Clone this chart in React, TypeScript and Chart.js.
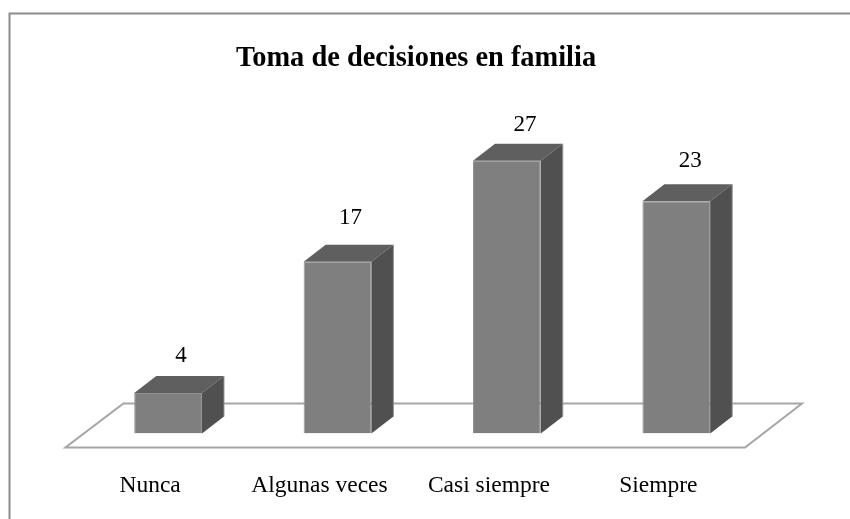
import React, { useEffect, useRef } from "react";
import { Chart, registerables } from "chart.js";

Chart.register(...registerables);

const categories = ["Nunca", "Algunas veces", "Casi siempre", "Siempre"];
const values = [4, 17, 27, 23];
const chartTitle = "Toma de decisiones en familia";

const DEPTH_X = 22;
const DEPTH_Y = 17;
const FRONT = "#7f7f7f";
const TOP = "#5f5f5f";
const SIDE = "#505050";
const EDGE = "#929292";
const LABEL_DX = [13, 13, 18, 14];
const LABEL_DY = [-37.5, -43.5, -36, -40];

const scene = {
  id: "scene",
  beforeDraw(chart: any) {
    const { ctx, width, height } = chart;
    ctx.save();
    ctx.strokeStyle = "#8c8c8c";
    ctx.lineWidth = 2;
    ctx.beginPath();
    ctx.moveTo(9.5, height);
    ctx.lineTo(9.5, 13.5);
    ctx.lineTo(width, 13.5);
    ctx.stroke();
    ctx.restore();
  },
  beforeDatasetsDraw(chart: any) {
    const { ctx, chartArea } = chart;
    const meta = chart.getDatasetMeta(0);
    const bottom = chartArea.bottom;
    ctx.save();
    ctx.strokeStyle = "#a6a6a6";
    ctx.lineWidth = 2;
    ctx.beginPath();
    ctx.moveTo(chartArea.left - 18, bottom + 14);
    ctx.lineTo(chartArea.right - 16, bottom + 14);
    ctx.lineTo(chartArea.right + 41, bottom - 30);
    ctx.lineTo(chartArea.left + 40, bottom - 30);
    ctx.closePath();
    ctx.stroke();
    ctx.lineWidth = 1;
    ctx.strokeStyle = EDGE;
    meta.data.forEach((bar: any) => {
      const half = bar.width / 2;
      const l = bar.x - half;
      const r = bar.x + half;
      ctx.fillStyle = TOP;
      ctx.beginPath();
      ctx.moveTo(l, bar.y);
      ctx.lineTo(l + DEPTH_X, bar.y - DEPTH_Y);
      ctx.lineTo(r + DEPTH_X, bar.y - DEPTH_Y);
      ctx.lineTo(r, bar.y);
      ctx.closePath();
      ctx.fill();
      ctx.fillStyle = SIDE;
      ctx.beginPath();
      ctx.moveTo(r, bar.y);
      ctx.lineTo(r + DEPTH_X, bar.y - DEPTH_Y);
      ctx.lineTo(r + DEPTH_X, bottom - DEPTH_Y);
      ctx.lineTo(r, bottom);
      ctx.closePath();
      ctx.fill();
      ctx.beginPath();
      ctx.moveTo(r + DEPTH_X, bar.y - DEPTH_Y);
      ctx.lineTo(r + DEPTH_X, bottom - DEPTH_Y);
      ctx.stroke();
    });
    ctx.restore();
  },
  afterDatasetsDraw(chart: any) {
    const { ctx } = chart;
    const meta = chart.getDatasetMeta(0);
    ctx.save();
    ctx.font = '23px "Liberation Serif"';
    ctx.fillStyle = "#000";
    ctx.textAlign = "center";
    ctx.textBaseline = "middle";
    meta.data.forEach((bar: any, i: number) => {
      ctx.fillText(String(values[i]), bar.x + LABEL_DX[i], bar.y + LABEL_DY[i]);
    });
    ctx.restore();
  },
};

export default function App() {
  const ref = useRef<HTMLCanvasElement>(null);
  useEffect(() => {
    document.body.style.margin = "0";
    const chart = new Chart(ref.current!, {
      type: "bar",
      data: {
        labels: categories,
        datasets: [
          {
            data: values,
            backgroundColor: FRONT,
            borderColor: EDGE,
            borderWidth: 1,
            barPercentage: 0.4,
            categoryPercentage: 1,
          },
        ],
      },
      options: {
        responsive: false,
        animation: false,
        layout: { padding: { left: 71, right: 89, top: 42, bottom: 0 } },
        plugins: {
          legend: { display: false },
          tooltip: { enabled: false },
          title: {
            display: true,
            text: chartTitle,
            color: "#000",
            font: { family: '"Liberation Serif"', size: 28.4, weight: "bold" },
            padding: { top: 0, bottom: 54.4 },
          },
        },
        scales: {
          x: {
            grid: { display: false },
            border: { display: false },
            ticks: {
              color: "#000",
              font: { family: '"Liberation Serif"', size: 23.5 },
              padding: 30,
              labelOffset: -18,
              maxRotation: 0,
              autoSkip: false,
            },
            afterFit(scale: any) {
              scale.height = 85.5;
            },
          },
          y: {
            min: 0,
            max: 30,
            grid: { display: false },
            border: { display: false },
            ticks: { display: false },
            afterFit(scale: any) {
              scale.width = 12.4;
            },
          },
        },
      },
      plugins: [scene],
    } as any);
    return () => chart.destroy();
  }, []);
  return <canvas ref={ref} width={850} height={519} style={{ display: "block" }} />;
}
